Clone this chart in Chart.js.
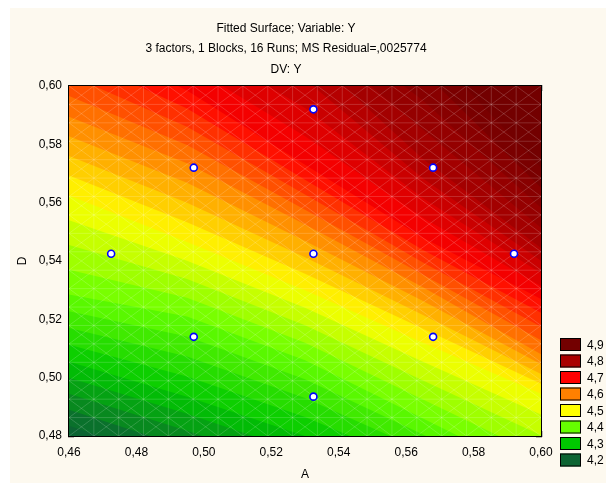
<!DOCTYPE html>
<html><head><meta charset="utf-8">
<script src="https://cdn.jsdelivr.net/npm/chart.js@4.4.1/dist/chart.umd.min.js"></script>
<style>
html,body{margin:0;padding:0;background:#fff;}
#wrap{position:relative;width:606px;height:485px;overflow:hidden;}
#panel{position:absolute;left:10px;top:8px;right:0;bottom:2px;background:#fdf9ef;}
canvas{position:absolute;left:0;top:0;}
</style></head><body>
<div id="wrap"><div id="panel"></div><canvas id="c" width="606" height="485"></canvas></div>
<script>
// ---- data ----
const titleLines = ['Fitted Surface; Variable: Y', '3 factors, 1 Blocks, 16 Runs; MS Residual=,0025774', 'DV: Y'];
const xAxisLabel = 'A';
const yAxisLabel = 'D';
const xTickValues = [0.46, 0.48, 0.50, 0.52, 0.54, 0.56, 0.58, 0.60];
const xTickLabels = ['0,46', '0,48', '0,50', '0,52', '0,54', '0,56', '0,58', '0,60'];
const yTickValues = [0.48, 0.50, 0.52, 0.54, 0.56, 0.58, 0.60];
const yTickLabels = ['0,48', '0,50', '0,52', '0,54', '0,56', '0,58', '0,60'];
// design points (A, D)
const designA = [0.5325, 0.497, 0.568, 0.4725, 0.5325, 0.592, 0.497, 0.568, 0.5325];
const designD = [0.592, 0.572, 0.572, 0.5425, 0.5425, 0.5425, 0.514, 0.514, 0.4935];
// legend
const legendValues = [4.9, 4.8, 4.7, 4.6, 4.5, 4.4, 4.3, 4.2];
const legendLabels = ['4,9', '4,8', '4,7', '4,6', '4,5', '4,4', '4,3', '4,2'];
// contour lines: D position of each contour level at these A positions
const contourA = [0.46, 0.495, 0.53, 0.565, 0.60];
const contourLevels = [4.200, 4.225, 4.250, 4.275, 4.300, 4.325, 4.350, 4.375, 4.400, 4.425,
  4.450, 4.475, 4.500, 4.525, 4.550, 4.575, 4.600, 4.625, 4.650, 4.675,
  4.700, 4.725, 4.750, 4.775, 4.800, 4.825, 4.850, 4.875, 4.900];
const contourD = [
  [0.4835, 0.4700, 0.4560, 0.4410, 0.4250],
  [0.4890, 0.4759, 0.4620, 0.4468, 0.4305],
  [0.4945, 0.4818, 0.4680, 0.4525, 0.4360],
  [0.5000, 0.4876, 0.4740, 0.4583, 0.4415],
  [0.5055, 0.4935, 0.4800, 0.4640, 0.4470],
  [0.5113, 0.5004, 0.4865, 0.4695, 0.4518],
  [0.5170, 0.5073, 0.4930, 0.4750, 0.4565],
  [0.5228, 0.5141, 0.4995, 0.4805, 0.4613],
  [0.5285, 0.5210, 0.5060, 0.4860, 0.4660],
  [0.5370, 0.5274, 0.5120, 0.4925, 0.4731],
  [0.5455, 0.5338, 0.5180, 0.4990, 0.4803],
  [0.5540, 0.5401, 0.5240, 0.5055, 0.4874],
  [0.5625, 0.5465, 0.5300, 0.5120, 0.4945],
  [0.5693, 0.5533, 0.5356, 0.5168, 0.4979],
  [0.5760, 0.5600, 0.5413, 0.5215, 0.5013],
  [0.5828, 0.5668, 0.5469, 0.5263, 0.5046],
  [0.5895, 0.5735, 0.5525, 0.5310, 0.5080],
  [0.5966, 0.5798, 0.5576, 0.5353, 0.5128],
  [0.6038, 0.5860, 0.5628, 0.5395, 0.5175],
  [0.6109, 0.5923, 0.5679, 0.5438, 0.5223],
  [0.6180, 0.5985, 0.5730, 0.5480, 0.5270],
  [0.6273, 0.6074, 0.5828, 0.5548, 0.5314],
  [0.6365, 0.6163, 0.5925, 0.5615, 0.5358],
  [0.6458, 0.6251, 0.6023, 0.5683, 0.5401],
  [0.6550, 0.6340, 0.6120, 0.5750, 0.5445],
  [0.6638, 0.6418, 0.6190, 0.5850, 0.5514],
  [0.6725, 0.6495, 0.6260, 0.5950, 0.5583],
  [0.6813, 0.6573, 0.6330, 0.6050, 0.5651],
  [0.6900, 0.6650, 0.6400, 0.6150, 0.5720]
];

// ---- styles ----
const paletteStops = [
  [4.2, [12, 100, 50]],
  [4.3, [0, 200, 0]],
  [4.4, [102, 255, 0]],
  [4.5, [255, 255, 0]],
  [4.6, [255, 128, 0]],
  [4.7, [255, 0, 0]],
  [4.8, [170, 0, 0]],
  [4.9, [115, 0, 0]]
];
function colorAt(v) {
  if (v <= paletteStops[0][0]) return 'rgb(' + paletteStops[0][1].join(',') + ')';
  const last = paletteStops[paletteStops.length - 1];
  if (v >= last[0]) return 'rgb(' + last[1].join(',') + ')';
  for (let i = 0; i < paletteStops.length - 1; i++) {
    const [v0, c0] = paletteStops[i], [v1, c1] = paletteStops[i + 1];
    if (v >= v0 && v <= v1) {
      const t = (v - v0) / (v1 - v0);
      return 'rgb(' + c0.map((c, k) => Math.round(c + (c1[k] - c) * t)).join(',') + ')';
    }
  }
}
const bandHalf = (contourLevels[1] - contourLevels[0]) / 2;
const meshN = 19;

Chart.defaults.font.family = "'Liberation Sans', Arial, sans-serif";
Chart.defaults.font.size = 12;
Chart.defaults.color = '#000';

const xMin = xTickValues[0], xMax = xTickValues[xTickValues.length - 1];
const yMin = yTickValues[0], yMax = yTickValues[yTickValues.length - 1];

function buildMesh() {
  const pts = [];
  const dA = (xMax - xMin) / meshN, dD = (yMax - yMin) / meshN;
  const gap = (x) => pts.push({x: x, y: null});
  for (let k = 1; k < meshN; k++) {
    const a = xMin + k * dA;
    pts.push({x: a, y: yMin}, {x: a, y: yMax}); gap(a);
    const d = yMin + k * dD;
    pts.push({x: xMin, y: d}, {x: xMax, y: d}); gap(xMax);
  }
  for (let c = -(meshN - 1); c <= meshN - 1; c++) {
    const t0 = Math.max(0, c), t1 = Math.min(meshN, meshN + c);
    pts.push({x: xMin + t0 * dA, y: yMin + (t0 - c) * dD}, {x: xMin + t1 * dA, y: yMin + (t1 - c) * dD});
    gap(xMin + t1 * dA);
  }
  for (let c = 1; c <= 2 * meshN - 1; c++) {
    const t0 = Math.max(0, c - meshN), t1 = Math.min(meshN, c);
    pts.push({x: xMin + t0 * dA, y: yMin + (c - t0) * dD}, {x: xMin + t1 * dA, y: yMin + (c - t1) * dD});
    gap(xMin + t1 * dA);
  }
  return pts;
}

const datasets = [];
datasets.push({
  type: 'scatter', label: 'runs',
  data: designA.map((a, i) => ({x: a, y: designD[i]})),
  pointRadius: 3.5, pointBackgroundColor: '#ffffff', pointBorderColor: '#0000ff', pointBorderWidth: 1.6,
  order: 0
});
datasets.push({
  type: 'line', label: 'mesh', data: buildMesh(), spanGaps: false,
  borderColor: 'rgba(255,255,255,0.17)', borderWidth: 1, pointRadius: 0, fill: false, order: 1
});
contourLevels.forEach((L, j) => {
  datasets.push({
    type: 'line', label: 'c' + L,
    data: contourA.map((a, i) => ({x: a, y: contourD[j][i]})),
    fill: 'end', backgroundColor: colorAt(L + bandHalf), borderWidth: 0, pointRadius: 0,
    tension: 0, order: 200 - j
  });
});

const areaBg = {
  id: 'areaBg',
  beforeDatasetsDraw(chart) {
    const {ctx, chartArea: a} = chart;
    ctx.save();
    ctx.fillStyle = colorAt(contourLevels[0] - bandHalf);
    ctx.fillRect(a.left, a.top, a.right - a.left, a.bottom - a.top);
    ctx.restore();
  }
};
const levelLegend = {
  id: 'levelLegend',
  afterDraw(chart) {
    const {ctx, chartArea: a} = chart;
    ctx.save();
    const step = 16.5, n = legendValues.length;
    const x0 = a.right + 19;
    ctx.font = "12px 'Liberation Sans', Arial, sans-serif";
    ctx.textBaseline = 'middle';
    ctx.textAlign = 'left';
    legendValues.forEach((v, i) => {
      const cy = a.bottom + 24 - (n - 1 - i) * step;
      ctx.fillStyle = colorAt(v);
      ctx.fillRect(x0, cy - 6.5, 21, 13);
      ctx.strokeStyle = '#000';
      ctx.lineWidth = 1;
      ctx.strokeRect(x0 + 0.5, cy - 6, 20, 12);
      ctx.fillStyle = '#000';
      ctx.fillText(legendLabels[i], x0 + 27, cy + 1);
    });
    ctx.restore();
  }
};

const gridOpts = {drawOnChartArea: false, drawTicks: true, tickLength: -5, tickColor: '#000', tickWidth: 1.5};
const borderOpts = {display: true, color: '#000', width: 2};

new Chart(document.getElementById('c'), {
  type: 'scatter',
  data: {datasets: datasets},
  plugins: [areaBg, levelLegend],
  options: {
    responsive: false, animation: false, events: [], devicePixelRatio: 1,
    layout: {padding: {left: 0, right: 34, top: 0, bottom: 0}},
    plugins: {
      legend: {display: false},
      tooltip: {enabled: false},
      title: {display: true, text: titleLines, color: '#000', fullSize: true,
        font: {size: 12, weight: 'normal', lineHeight: '20.5px'}, padding: {top: 18, bottom: 6.5}}
    },
    scales: {
      x: {type: 'linear', position: 'bottom', min: xMin, max: xMax, z: 1,
        afterBuildTicks: s => { s.ticks = xTickValues.map(v => ({value: v})); },
        afterFit: s => { s.height = 49; },
        ticks: {callback: (v, i) => xTickLabels[i], padding: 14, maxRotation: 0, autoSkip: false, color: '#000'},
        grid: gridOpts, border: borderOpts,
        title: {display: true, text: xAxisLabel, color: '#000', font: {size: 12}, padding: {top: 0, bottom: 3}}
      },
      x2: {type: 'linear', position: 'top', min: xMin, max: xMax, z: 1,
        afterBuildTicks: s => { s.ticks = xTickValues.map(v => ({value: v})); },
        afterFit: s => { s.height = 0; },
        ticks: {display: false}, grid: gridOpts, border: borderOpts
      },
      y: {type: 'linear', position: 'left', min: yMin, max: yMax, z: 1,
        afterBuildTicks: s => { s.ticks = yTickValues.map(v => ({value: v})); },
        afterFit: s => { s.width = 69; },
        ticks: {callback: (v, i) => yTickLabels[i], padding: 12, autoSkip: false, color: '#000'},
        grid: gridOpts, border: borderOpts,
        title: {display: true, text: yAxisLabel, color: '#000', font: {size: 12}, padding: {top: 15, bottom: 0}}
      },
      y2: {type: 'linear', position: 'right', min: yMin, max: yMax, z: 1,
        afterBuildTicks: s => { s.ticks = yTickValues.map(v => ({value: v})); },
        afterFit: s => { s.width = 31; },
        ticks: {display: false}, grid: gridOpts, border: borderOpts
      }
    }
  }
});
</script>
</body></html>
